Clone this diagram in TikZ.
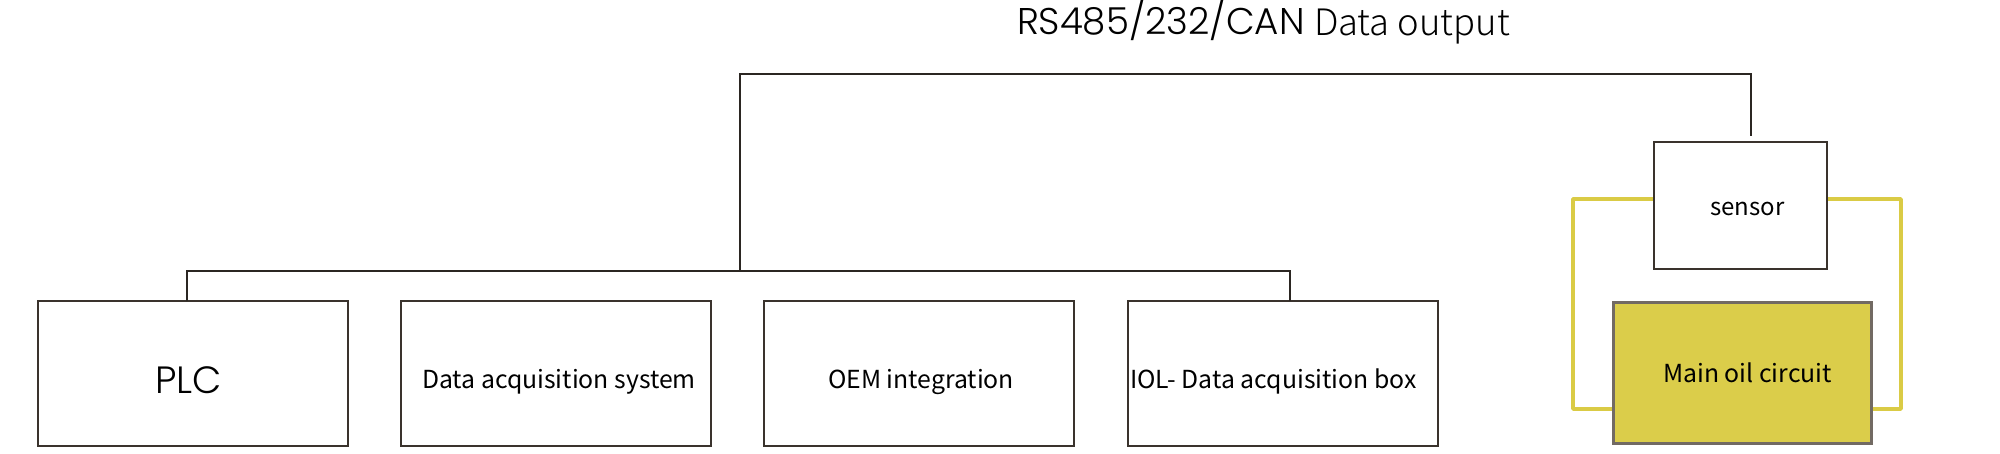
\documentclass[tikz,border=0pt]{standalone}
\usepackage{fontspec}
\usetikzlibrary{backgrounds}
\setmainfont{Noto Sans CJK SC}
\newfontfamily\geo{Poppins}[UprightFont=* Light]
\newfontfamily\thin{Noto Sans CJK SC}[UprightFont=* Light]
\definecolor{linec}{HTML}{2B2622}
\definecolor{boxc}{HTML}{3A332D}
\definecolor{mainb}{HTML}{726A63}
\definecolor{yfill}{HTML}{DBCD4A}
\definecolor{yline}{HTML}{DACB45}
\tikzset{
  wire/.style={draw=linec, line width=1pt},
  ywire/.style={draw=yline, line width=1.8pt, line join=round},
  box/.style={draw=boxc, line width=1pt, fill=white, inner sep=0pt, outer sep=0pt, rectangle},
  bbox/.style={box, minimum width=155pt, minimum height=72.5pt},
  sbox/.style={box, line width=1.3pt, minimum width=86.5pt, minimum height=63.5pt},
  mbox/.style={draw=mainb, fill=yfill, line width=1.5pt, inner sep=0pt, outer sep=0pt, minimum width=129pt, minimum height=70.5pt},
  lbl/.style={inner sep=0pt, outer sep=0pt, anchor=base, text=black, font=\fontsize{12.4}{14}\selectfont},
}
\begin{document}
\begin{tikzpicture}[x=0.5pt, y=-0.5pt]
\useasboundingbox (0,0) rectangle (2000,454);
\node[sbox] (sensor) at (1740.5,205.5) {};
\node[mbox] (main) at (1742,372.5) {};
\begin{scope}[on background layer]
\draw[ywire] ([yshift=3.25pt]sensor.west) -- ++(-81,0) |- ([yshift=-18.25pt]main.west);
\draw[ywire] ([yshift=3.25pt]sensor.east) -- ++(74,0) |- ([yshift=-18.25pt]main.east);
\end{scope}
% bottom boxes
\node[bbox] (plc) at (192.5,373.5) {};
\node[bbox] (das) at (555.5,373.5) {};
\node[bbox] (oem) at (919,373.5) {};
\node[bbox] (iol) at (1282.5,373.5) {};
% connectors
\coordinate (j) at (740,271);
\coordinate (tl) at (740,74);
\coordinate (st) at (1751,136);
\draw[wire] ([xshift=-2.75pt]plc.north) |- (j) -| ([xshift=3.75pt]iol.north);
\draw[wire] (j) -- (tl) -| (st);
% texts
\node[lbl, anchor=base west, font=\geo\fontsize{18.6}{20}\selectfont] (t1) at (1017,35) {RS485/232/CAN};
\node[lbl, anchor=base west, font=\thin\fontsize{18.2}{20}\selectfont] (t2) at (1314,36) {Data output};
\node[lbl, font=\geo\fontsize{19}{21}\selectfont] (plct) at (188.5,393) {PLC};
\node[lbl] (dast) at (559,388) {Data acquisition system};
\node[lbl] (oemt) at (921,388) {OEM integration};
\node[lbl, anchor=base west] (iolt) at (1130,388) {IOL- Data acquisition box};
\node[lbl, font=\fontsize{12}{14}\selectfont] (sent) at (1747.5,215) {sensor};
\node[lbl] (maint) at (1747.5,382) {Main oil circuit};
\end{tikzpicture}
\end{document}
